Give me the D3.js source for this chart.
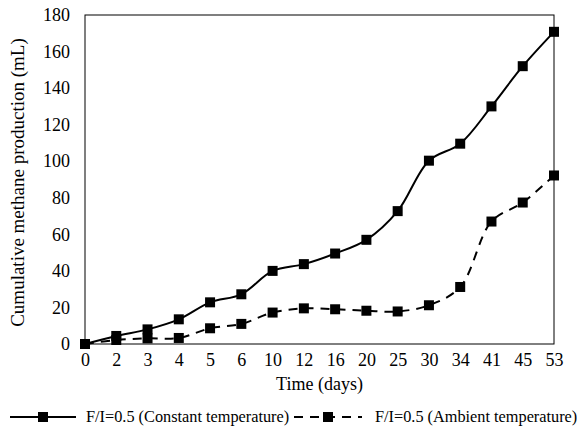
<!DOCTYPE html>
<html>
<head>
<meta charset="utf-8">
<script src="https://cdn.jsdelivr.net/npm/d3@7"></script>
<style>
  body { margin: 0; background: #fff; }
  svg text { font-family: "Liberation Serif", "DejaVu Serif", serif !important; fill: #000; }
</style>
</head>
<body>
<svg id="chart" width="577" height="430"></svg>
<script>
// data
const days = ["0", "2", "3", "4", "5", "6", "10", "12", "16", "20", "25", "30", "34", "41", "45", "53"];
const constantTemp = [0, 4.4, 8, 13.5, 22.8, 27.2, 40, 43.7, 49.5, 57, 72.7, 100.3, 109.6, 130, 152, 170.8];
const ambientTemp = [0, 2.2, 3.1, 3.3, 8.6, 11, 17.2, 19.5, 19, 18.2, 17.8, 21.2, 31.2, 67, 77.4, 92.2];
const yTicks = [0, 20, 40, 60, 80, 100, 120, 140, 160, 180];

const seriesList = [
  { name: "F/I=0.5 (Constant temperature)", values: constantTemp, dash: null },
  { name: "F/I=0.5 (Ambient temperature)", values: ambientTemp, dash: "9,7" }
];

const margin = { top: 15, right: 23, bottom: 86, left: 85 };
const width = 577 - margin.left - margin.right;
const height = 430 - margin.top - margin.bottom;

const svg = d3.select("#chart");
const g = svg.append("g").attr("transform", `translate(${margin.left},${margin.top})`);

const x = d3.scalePoint().domain(days).range([0, width]);
const y = d3.scaleLinear().domain([0, 180]).range([height, 0]);

// plot area border
g.append("rect")
  .attr("width", width).attr("height", height)
  .attr("fill", "none").attr("stroke", "#000").attr("stroke-width", 1);

const xAxis = g.append("g")
  .attr("transform", `translate(0,${height})`)
  .call(d3.axisBottom(x).tickSize(0).tickPadding(9));
xAxis.select(".domain").remove();
xAxis.attr("font-size", 18).attr("font-family", null);

const yAxis = g.append("g")
  .call(d3.axisLeft(y).tickValues(yTicks).tickSize(0).tickPadding(15));
yAxis.select(".domain").remove();
yAxis.attr("font-size", 18).attr("font-family", null);

const line = d3.line()
  .x((d, i) => x(days[i]))
  .y(d => y(d))
  .curve(d3.curveCatmullRom.alpha(0.5));

seriesList.forEach(s => {
  g.append("path")
    .datum(s.values)
    .attr("fill", "none")
    .attr("stroke", "#000")
    .attr("stroke-width", 2)
    .attr("stroke-dasharray", s.dash)
    .attr("d", line);

  g.selectAll(null)
    .data(s.values)
    .join("rect")
    .attr("x", (d, i) => x(days[i]) - 5)
    .attr("y", d => y(d) - 5)
    .attr("width", 10).attr("height", 10)
    .attr("fill", "#000");
});

// axis titles
svg.append("text")
  .attr("x", margin.left + width / 2)
  .attr("y", 390)
  .attr("text-anchor", "middle")
  .attr("font-size", 18)
  .text("Time (days)");

svg.append("text")
  .attr("transform", `translate(24,${margin.top + height / 2 + 3}) rotate(-90)`)
  .attr("text-anchor", "middle")
  .attr("font-size", 19)
  .text("Cumulative methane production (mL)");

// legend
const legendItems = [
  { x1: 10, x2: 76, label: 86 },
  { x1: 294, x2: 362, label: 375 }
];
const legend = svg.append("g").attr("transform", "translate(0,417)");
seriesList.forEach((s, i) => {
  const p = legendItems[i];
  legend.append("line")
    .attr("x1", p.x1).attr("x2", p.x2)
    .attr("stroke", "#000").attr("stroke-width", 2)
    .attr("stroke-dasharray", s.dash);
  legend.append("rect")
    .attr("x", (p.x1 + p.x2) / 2 - 5).attr("y", -5)
    .attr("width", 10).attr("height", 10)
    .attr("fill", "#000");
  legend.append("text")
    .attr("x", p.label).attr("y", 5)
    .attr("font-size", 16.3)
    .text(s.name);
});
</script>
</body>
</html>
